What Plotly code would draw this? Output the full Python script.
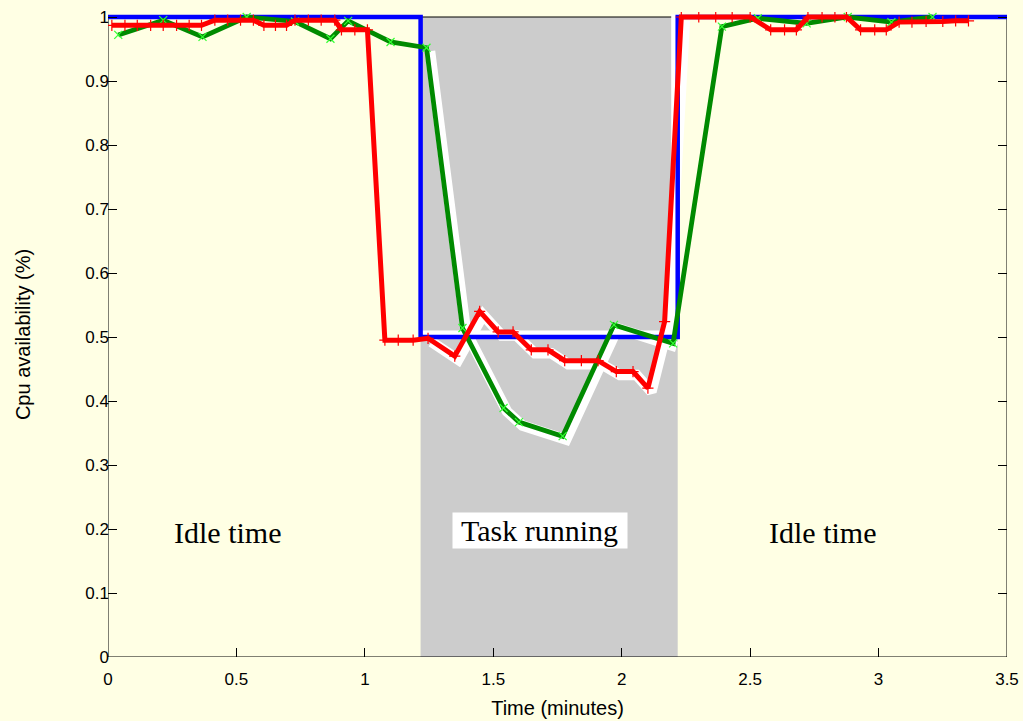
import plotly.graph_objects as go

# ---------------- data ----------------
task_start = 1.217
task_end = 2.218

blue_x = [0.0, task_start, task_start, task_end, task_end, 3.5]
blue_y = [1.0, 1.0, 0.5, 0.5, 1.0, 1.0]

green_x = [0.04, 0.215, 0.368, 0.54, 0.728, 0.866, 0.935, 1.10, 1.24, 1.38, 1.54, 1.60,
           1.77, 1.97, 2.20, 2.39, 2.53, 2.72, 2.88, 3.05, 3.21]
green_y = [0.972, 0.995, 0.969, 1.0, 0.993, 0.966, 0.994, 0.961, 0.952, 0.514, 0.389, 0.367,
           0.345, 0.519, 0.49, 0.985, 0.998, 0.99, 1.0, 0.992, 1.0]

red_x = [0.015, 0.066, 0.114, 0.166, 0.215, 0.267, 0.316, 0.364,
         0.416, 0.466, 0.516, 0.566,
         0.607, 0.652, 0.695,
         0.728, 0.78, 0.83, 0.883,
         0.909, 0.961, 1.01,
         1.078, 1.13, 1.188, 1.246, 1.35, 1.447, 1.519, 1.577, 1.648, 1.713,
         1.778, 1.843, 1.908, 1.979, 2.044, 2.102, 2.167,
         2.232, 2.30, 2.366, 2.43, 2.50,
         2.58, 2.634, 2.68,
         2.725, 2.78, 2.83, 2.875,
         2.93, 2.985, 3.03,
         3.08, 3.13, 3.185, 3.25, 3.30, 3.35]
red_y = [0.987, 0.987, 0.987, 0.987, 0.987, 0.987, 0.987, 0.987,
         0.995, 0.995, 0.995, 0.995,
         0.987, 0.987, 0.987,
         0.995, 0.995, 0.995, 0.995,
         0.98, 0.98, 0.98,
         0.495, 0.495, 0.495, 0.498, 0.470, 0.540, 0.508, 0.508, 0.48, 0.48,
         0.463, 0.463, 0.463, 0.446, 0.446, 0.42, 0.524,
         1.0, 1.0, 1.0, 1.0, 1.0,
         0.98, 0.98, 0.98,
         1.0, 1.0, 1.0, 1.0,
         0.98, 0.98, 0.98,
         0.992, 0.992, 0.993, 0.993, 0.994, 0.994]

x_ticks = [0, 0.5, 1, 1.5, 2, 2.5, 3, 3.5]
y_ticks = [0, 0.1, 0.2, 0.3, 0.4, 0.5, 0.6, 0.7, 0.8, 0.9, 1]

labels = [
    {"text": "Idle time", "x": 0.467, "y": 0.194, "box": False},
    {"text": " Task running ", "x": 1.681, "y": 0.197, "box": True},
    {"text": "Idle time", "x": 2.782, "y": 0.194, "box": False},
]

# ---------------- styling ----------------
BG = "#ffffe4"
PX_X = 899 / 3.5      # pixels per minute
PX_Y = 640 / 1.0      # pixels per unit availability
Y_TOP = 645 / PX_Y    # a little headroom so lines at 1.0 are not clipped

halo_dx = 3.5 / PX_X
halo_dy = 3.5 / PX_Y
blue_dx = 2.5 / PX_X
blue_dy = 2.5 / PX_Y

fig = go.Figure()

# white halos (only within the task-running window)
g_idx = [i for i, x in enumerate(green_x) if task_start <= x <= task_end + 0.03]
r_idx = [i for i, x in enumerate(red_x) if task_start <= x <= task_end + 0.03]

bx = blue_x[2:5]
by = blue_y[2:5]
fig.add_trace(go.Scatter(
    x=[v - blue_dx for v in bx], y=[v + blue_dy for v in by],
    mode="lines", line=dict(color="white", width=8), hoverinfo="skip", showlegend=False))
fig.add_trace(go.Scatter(
    x=[green_x[i] + halo_dx for i in g_idx], y=[green_y[i] - halo_dy for i in g_idx],
    mode="lines", line=dict(color="white", width=10.5), hoverinfo="skip", showlegend=False))
fig.add_trace(go.Scatter(
    x=[red_x[i] + halo_dx for i in r_idx], y=[red_y[i] - halo_dy for i in r_idx],
    mode="lines", line=dict(color="white", width=10.5), hoverinfo="skip", showlegend=False))

# main series
fig.add_trace(go.Scatter(x=blue_x, y=blue_y, mode="lines",
                         line=dict(color="#0000ff", width=4.5), showlegend=False))
fig.add_trace(go.Scatter(x=green_x, y=green_y, mode="lines+markers",
                         line=dict(color="#008a00", width=4.8),
                         marker=dict(symbol="x-thin", size=8,
                                     line=dict(color="#33ff33", width=1.2)),
                         showlegend=False))
fig.add_trace(go.Scatter(x=red_x, y=red_y, mode="lines+markers",
                         line=dict(color="#ff0000", width=5),
                         marker=dict(symbol="cross-thin", size=8,
                                     line=dict(color="#ff0000", width=1.2)),
                         showlegend=False))

# gray task window and frame
fig.add_shape(type="rect", xref="x", yref="y", x0=task_start, x1=task_end, y0=0, y1=1,
              fillcolor="#cccccc", line=dict(width=0), layer="below")
fig.add_shape(type="rect", xref="x", yref="y", x0=0, x1=3.5, y0=0, y1=1,
              fillcolor="rgba(0,0,0,0)", line=dict(color="black", width=1), layer="below")

for lab in labels:
    fig.add_annotation(x=lab["x"], y=lab["y"], xref="x", yref="y", text=lab["text"],
                       showarrow=False,
                       font=dict(family="Liberation Serif", size=30, color="black"),
                       bgcolor="white" if lab["box"] else "rgba(0,0,0,0)",
                       borderpad=1)

tick_font = dict(family="Liberation Sans", size=17, color="black")
title_font = dict(family="Liberation Sans", size=20, color="black")
fig.update_layout(
    width=1023, height=721,
    margin=dict(l=108, r=16, t=12, b=64, autoexpand=False),
    paper_bgcolor=BG, plot_bgcolor=BG,
    xaxis=dict(range=[0, 3.5], tickvals=x_ticks, ticktext=[f"{v:g}" for v in x_ticks],
               ticks="inside", ticklen=9, tickcolor="black", tickwidth=1,
               showline=False, showgrid=False, zeroline=False, automargin=False,
               tickfont=tick_font, ticklabelstandoff=10,
               title=dict(text="Time (minutes)", font=title_font, standoff=12)),
    xaxis2=dict(range=[0, 3.5], tickvals=x_ticks, overlaying="x", side="top",
                anchor="free", position=1 / Y_TOP, ticks="inside", ticklen=9,
                tickcolor="black", tickwidth=1, showticklabels=False, automargin=False,
                showline=False, showgrid=False, zeroline=False),
    yaxis=dict(range=[0, Y_TOP], tickvals=y_ticks, ticktext=[f"{v:g}" for v in y_ticks],
               ticks="inside", ticklen=9, tickcolor="black", tickwidth=1,
               mirror="ticks", showline=False, showgrid=False, zeroline=False,
               automargin=False, tickfont=tick_font, ticklabelstandoff=-2,
               title=dict(text="Cpu availability (%)", font=title_font, standoff=49)),
)

fig.write_html("out.html",
               config={"displayModeBar": False},
               post_script="document.body.style.margin='0px';"
                           "document.body.style.background='" + BG + "';")
